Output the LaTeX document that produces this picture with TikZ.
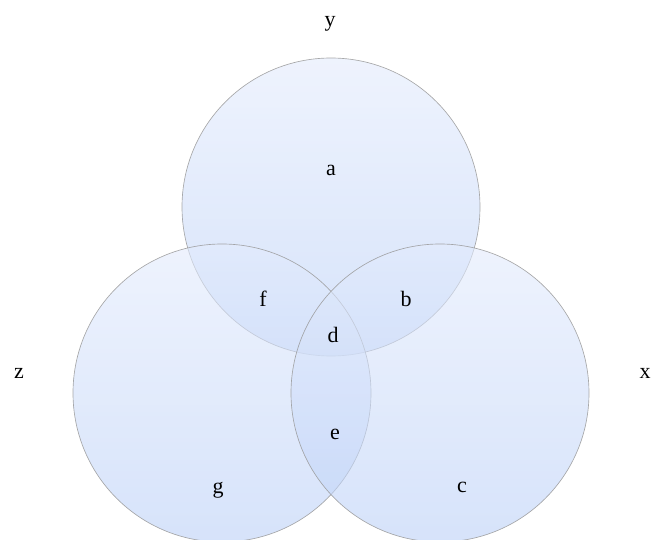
\documentclass[tikz,border=0pt]{standalone}
\usepackage{fontspec}
\setmainfont{Liberation Serif}
\definecolor{ctop}{RGB}{227,235,252}
\definecolor{cbot}{RGB}{187,208,247}
\tikzset{
  setcircle/.style={draw=gray!80, line width=0.65pt, top color=ctop, bottom color=cbot, fill opacity=0.6, draw opacity=0.85},
  lbl/.style={anchor=base, inner sep=0pt, font=\fontsize{22}{25}\selectfont, text=black}
}
\begin{document}
\begin{tikzpicture}[x=1pt,y=-1pt]
\useasboundingbox (0,0) rectangle (651,540);
\path[setcircle] (331,207) circle[radius=149];
\path[setcircle] (222,393) circle[radius=149];
\path[setcircle] (440,393) circle[radius=149];
\node[lbl] (ly) at (330,27) {y};
\node[lbl] (lz) at (19,378) {z};
\node[lbl] (lx) at (645,378) {x};
\node[lbl] (la) at (331,176) {a};
\node[lbl] (lf) at (263,307) {f};
\node[lbl] (lb) at (406,306) {b};
\node[lbl] (ld) at (333,342) {d};
\node[lbl] (le) at (335,439) {e};
\node[lbl] (lg) at (218,493) {g};
\node[lbl] (lc) at (462,492) {c};
\end{tikzpicture}
\end{document}
